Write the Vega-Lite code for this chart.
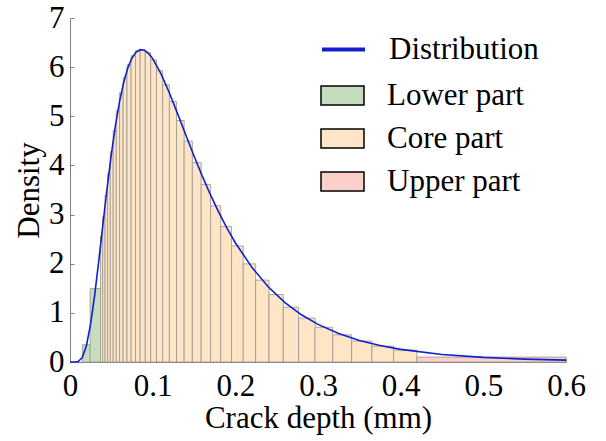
{
  "$schema": "https://vega.github.io/schema/vega-lite/v6.json",
  "autosize": {"type": "none"},
  "width": 496,
  "height": 344,
  "padding": {"left": 70, "top": 18, "right": 40, "bottom": 79},
  "background": "white",
  "config": {
    "font": "Liberation Serif",
    "view": {"stroke": null},
    "axis": {
      "grid": false,
      "domainColor": "#808080",
      "domainWidth": 1,
      "tickColor": "#808080",
      "tickSize": -4,
      "labelFont": "Liberation Serif",
      "labelFontSize": 31,
      "labelColor": "#000000",
      "titleFont": "Liberation Serif",
      "titleFontSize": 31,
      "titleFontWeight": "normal",
      "titleColor": "#000000"
    },
    "legend": {
      "labelFont": "Liberation Serif",
      "labelFontSize": 31,
      "labelColor": "#000000",
      "labelOffset": 22,
      "padding": 0,
      "symbolSize": 1849
    }
  },
  "datasets": {
    "bars": [
      {"lo": 0.0151, "hi": 0.0244, "density": 0.352, "part": "Lower part"},
      {"lo": 0.0244, "hi": 0.0369, "density": 1.494, "part": "Lower part"},
      {"lo": 0.0369, "hi": 0.03955, "density": 2.561, "part": "Core part"},
      {"lo": 0.03955, "hi": 0.0424, "density": 2.970, "part": "Core part"},
      {"lo": 0.0424, "hi": 0.04545, "density": 3.399, "part": "Core part"},
      {"lo": 0.04545, "hi": 0.04872, "density": 3.840, "part": "Core part"},
      {"lo": 0.04872, "hi": 0.05222, "density": 4.281, "part": "Core part"},
      {"lo": 0.05222, "hi": 0.05598, "density": 4.710, "part": "Core part"},
      {"lo": 0.05598, "hi": 0.06, "density": 5.114, "part": "Core part"},
      {"lo": 0.06, "hi": 0.06432, "density": 5.480, "part": "Core part"},
      {"lo": 0.06432, "hi": 0.06895, "density": 5.796, "part": "Core part"},
      {"lo": 0.06895, "hi": 0.0739, "density": 6.049, "part": "Core part"},
      {"lo": 0.0739, "hi": 0.07922, "density": 6.231, "part": "Core part"},
      {"lo": 0.07922, "hi": 0.08492, "density": 6.334, "part": "Core part"},
      {"lo": 0.08492, "hi": 0.09103, "density": 6.354, "part": "Core part"},
      {"lo": 0.09103, "hi": 0.09757, "density": 6.292, "part": "Core part"},
      {"lo": 0.09757, "hi": 0.10459, "density": 6.148, "part": "Core part"},
      {"lo": 0.10459, "hi": 0.11212, "density": 5.929, "part": "Core part"},
      {"lo": 0.11212, "hi": 0.12018, "density": 5.642, "part": "Core part"},
      {"lo": 0.12018, "hi": 0.12882, "density": 5.300, "part": "Core part"},
      {"lo": 0.12882, "hi": 0.13809, "density": 4.913, "part": "Core part"},
      {"lo": 0.13809, "hi": 0.14802, "density": 4.494, "part": "Core part"},
      {"lo": 0.14802, "hi": 0.15867, "density": 4.057, "part": "Core part"},
      {"lo": 0.15867, "hi": 0.17008, "density": 3.615, "part": "Core part"},
      {"lo": 0.17008, "hi": 0.18232, "density": 3.179, "part": "Core part"},
      {"lo": 0.18232, "hi": 0.19543, "density": 2.759, "part": "Core part"},
      {"lo": 0.19543, "hi": 0.20949, "density": 2.363, "part": "Core part"},
      {"lo": 0.20949, "hi": 0.22456, "density": 1.997, "part": "Core part"},
      {"lo": 0.22456, "hi": 0.24071, "density": 1.666, "part": "Core part"},
      {"lo": 0.24071, "hi": 0.25802, "density": 1.372, "part": "Core part"},
      {"lo": 0.25802, "hi": 0.27658, "density": 1.114, "part": "Core part"},
      {"lo": 0.27658, "hi": 0.29647, "density": 0.894, "part": "Core part"},
      {"lo": 0.29647, "hi": 0.3178, "density": 0.707, "part": "Core part"},
      {"lo": 0.3178, "hi": 0.34066, "density": 0.552, "part": "Core part"},
      {"lo": 0.34066, "hi": 0.36516, "density": 0.426, "part": "Core part"},
      {"lo": 0.36516, "hi": 0.39143, "density": 0.324, "part": "Core part"},
      {"lo": 0.39143, "hi": 0.4196, "density": 0.243, "part": "Core part"},
      {"lo": 0.4196, "hi": 0.6, "density": 0.100, "part": "Upper part"}
    ],
    "curve": [
      {"x": 0.0, "y": 0.0},
      {"x": 0.005, "y": 0.0001},
      {"x": 0.01, "y": 0.011},
      {"x": 0.015, "y": 0.097},
      {"x": 0.02, "y": 0.342},
      {"x": 0.025, "y": 0.779},
      {"x": 0.03, "y": 1.380},
      {"x": 0.035, "y": 2.085},
      {"x": 0.04, "y": 2.829},
      {"x": 0.045, "y": 3.556},
      {"x": 0.05, "y": 4.226},
      {"x": 0.055, "y": 4.813},
      {"x": 0.06, "y": 5.303},
      {"x": 0.065, "y": 5.692},
      {"x": 0.07, "y": 5.985},
      {"x": 0.075, "y": 6.186},
      {"x": 0.08, "y": 6.307},
      {"x": 0.085, "y": 6.355},
      {"x": 0.09, "y": 6.343},
      {"x": 0.095, "y": 6.279},
      {"x": 0.1, "y": 6.174},
      {"x": 0.11, "y": 5.869},
      {"x": 0.12, "y": 5.485},
      {"x": 0.13, "y": 5.060},
      {"x": 0.14, "y": 4.623},
      {"x": 0.15, "y": 4.193},
      {"x": 0.16, "y": 3.783},
      {"x": 0.17, "y": 3.399},
      {"x": 0.18, "y": 3.044},
      {"x": 0.19, "y": 2.720},
      {"x": 0.2, "y": 2.427},
      {"x": 0.22, "y": 1.926},
      {"x": 0.24, "y": 1.527},
      {"x": 0.26, "y": 1.210},
      {"x": 0.28, "y": 0.961},
      {"x": 0.3, "y": 0.765},
      {"x": 0.325, "y": 0.578},
      {"x": 0.35, "y": 0.438},
      {"x": 0.375, "y": 0.335},
      {"x": 0.4, "y": 0.257},
      {"x": 0.45, "y": 0.154},
      {"x": 0.5, "y": 0.094},
      {"x": 0.55, "y": 0.059},
      {"x": 0.6, "y": 0.038}
    ]
  },
  "layer": [
    {
      "data": {"name": "bars"},
      "mark": {"type": "rect", "stroke": "#a49d95", "strokeWidth": 0.9},
      "encoding": {
        "x": {
          "field": "lo", "type": "quantitative",
          "scale": {"domain": [0, 0.6], "nice": false, "zero": false},
          "axis": {"values": [0, 0.1, 0.2, 0.3, 0.4, 0.5, 0.6], "format": "~g", "title": "Crack depth (mm)", "labelPadding": 13, "titlePadding": 2, "labelFlush": false}
        },
        "x2": {"field": "hi"},
        "y": {
          "field": "density", "type": "quantitative",
          "scale": {"domain": [0, 7], "nice": false},
          "axis": {"values": [0, 1, 2, 3, 4, 5, 6, 7], "format": "d", "title": "Density", "labelPadding": 10, "titlePadding": 3}
        },
        "y2": {"datum": 0},
        "fill": {
          "field": "part", "type": "nominal",
          "scale": {
            "domain": ["Lower part", "Core part", "Upper part"],
            "range": ["#c5dcbf", "#fde5c6", "#fbd0cb"]
          },
          "legend": {
            "title": null,
            "orient": "none",
            "legendX": 250,
            "legendY": 55,
            "rowPadding": 5,
            "symbolType": "M-1,-0.44H1V0.44H-1Z",
            "symbolStrokeColor": "#000000",
            "symbolStrokeWidth": 1.5,
            "symbolOpacity": 1
          }
        }
      }
    },
    {
      "data": {"name": "curve"},
      "mark": {"type": "line", "strokeWidth": 1.6},
      "encoding": {
        "x": {"field": "x", "type": "quantitative"},
        "y": {"field": "y", "type": "quantitative"},
        "stroke": {
          "datum": "Distribution",
          "scale": {"domain": ["Distribution"], "range": ["#1020d0"]},
          "legend": {
            "title": null,
            "orient": "none",
            "legendX": 250,
            "legendY": 8,
            "symbolType": "stroke",
            "symbolStrokeWidth": 4
          }
        }
      }
    }
  ]
}
